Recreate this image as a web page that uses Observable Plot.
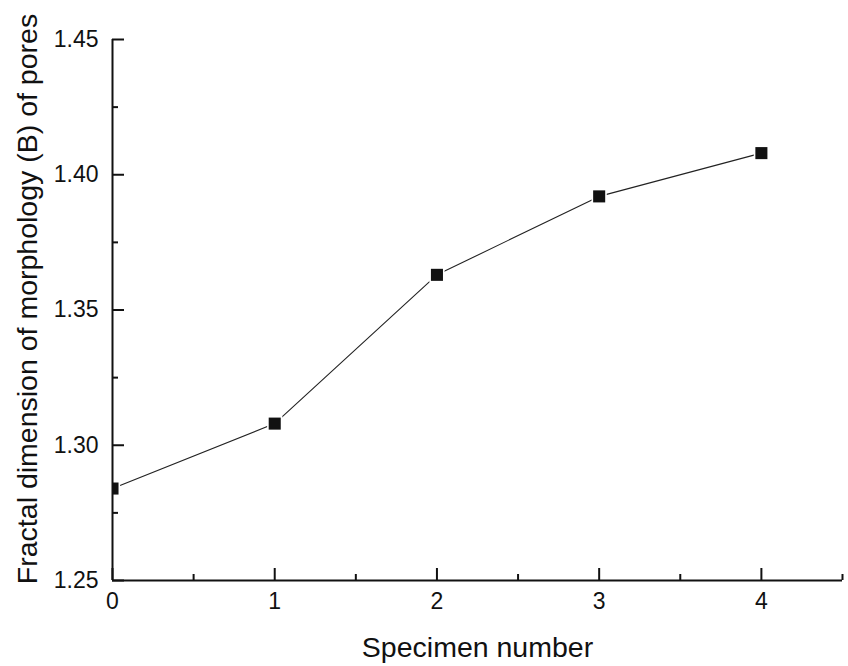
<!DOCTYPE html>
<html>
<head>
<meta charset="utf-8">
<script src="https://cdn.jsdelivr.net/npm/d3@7"></script>
<script src="https://cdn.jsdelivr.net/npm/@observablehq/plot@0.6"></script>
<style>
  html, body { margin: 0; padding: 0; background: #fff; }
  #chart svg { display: block; }
</style>
</head>
<body>
<div id="chart"></div>
<script>
const specimens = [0, 1, 2, 3, 4];
const fractalB = [1.284, 1.308, 1.363, 1.392, 1.408];
const xMajorTicks = [0, 1, 2, 3, 4];
const xMinorTicks = [0.5, 1.5, 2.5, 3.5, 4.5];
const yMajorTicks = [1.25, 1.30, 1.35, 1.40, 1.45];
const yMinorTicks = [1.275, 1.325, 1.375, 1.425];
const xTitle = "Specimen number";
const yTitle = "Fractal dimension of morphology (B) of pores";

const data = specimens.map((s, i) => ({x: s, y: fractalB[i]}));
const font = "'Liberation Sans', Arial, sans-serif";

const chart = Plot.plot({
  width: 848,
  height: 666,
  marginLeft: 112,
  marginRight: 6,
  marginTop: 39,
  marginBottom: 86,
  style: {fontFamily: font, background: "#fff", color: "#111"},
  x: {domain: [0, 4.5]},
  y: {domain: [1.25, 1.45]},
  marks: [
    Plot.line(data, {x: "x", y: "y", stroke: "#222", strokeWidth: 1.1}),
    Plot.dot(data, {x: "x", y: "y", symbol: "square", r: 8.6, fill: "#fff", stroke: "none", clip: true}),
    Plot.dot(data, {x: "x", y: "y", symbol: "square", r: 6.8, fill: "#111", stroke: "none", clip: true}),
    Plot.ruleX([0], {stroke: "#111", strokeWidth: 2}),
    Plot.ruleY([1.25], {stroke: "#111", strokeWidth: 2}),
    Plot.axisX({ticks: xMajorTicks, tickSize: -12, strokeWidth: 2, text: null, label: null}),
    Plot.axisX({ticks: xMinorTicks, tickSize: -6, strokeWidth: 2, text: null, label: null}),
    Plot.axisX({ticks: xMajorTicks, tickSize: 0, tickPadding: 12, fontSize: 23, fill: "#111", tickFormat: d => String(d), label: null}),
    Plot.axisY({ticks: yMajorTicks, tickSize: -12, strokeWidth: 2, text: null, label: null}),
    Plot.axisY({ticks: yMinorTicks, tickSize: -6, strokeWidth: 2, text: null, label: null}),
    Plot.axisY({ticks: yMajorTicks, tickSize: 0, tickPadding: 14, fontSize: 23, fill: "#111", tickFormat: d => d.toFixed(2), label: null}),
    Plot.text([xTitle], {frameAnchor: "bottom", lineAnchor: "middle", dy: 67, fontSize: 28.5, fill: "#111", text: d => d}),
    Plot.text([yTitle], {frameAnchor: "left", textAnchor: "middle", lineAnchor: "middle", dx: -85, dy: -11, rotate: -90, fontSize: 28.5, fill: "#111", text: d => d})
  ]
});
document.getElementById("chart").appendChild(chart);
</script>
</body>
</html>
